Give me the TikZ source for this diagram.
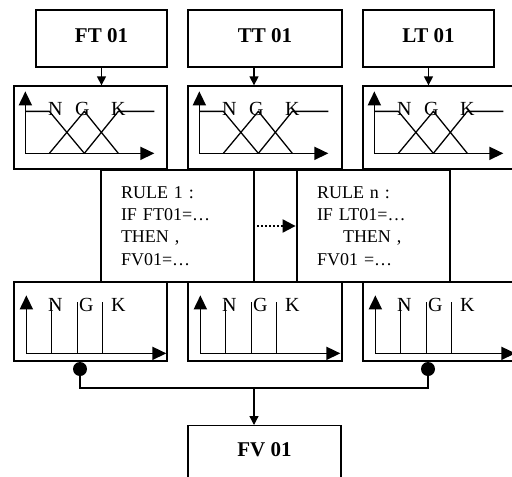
\documentclass[tikz,border=0pt]{standalone}
\usepackage{fontspec}
\setmainfont{Liberation Serif}
\usetikzlibrary{arrows.meta}
\begin{document}
\begin{tikzpicture}[x=1pt,y=-1pt,line width=1.3pt,
 tagbox/.style={draw,line width=1.3pt,inner sep=0pt,minimum height=57pt,text depth=6pt,font=\fontsize{21}{25}\selectfont\bfseries},
 mfbox/.style={draw,inner sep=0pt,minimum width=153pt},
 rulebox/.style={draw,line width=2.8pt,inner xsep=20pt,inner ysep=0pt,text width=113pt,minimum height=112pt,align=left,font=\fontsize{18}{22.3}\selectfont},
 axes/.style={line width=1.7pt,{Triangle[length=14pt,width=13pt]}-{Triangle[length=14pt,width=13pt]}},
 lbl/.style={inner sep=0pt,anchor=base,font=\fontsize{20}{24}\selectfont},
 flow/.style={line width=1.3pt,-{Triangle[length=9pt,width=9pt]}},
 joint/.style={circle,fill,inner sep=0pt,minimum size=14pt}]
 \clip (0,0) rectangle (512,477);
 % sensors
 \node[tagbox,minimum width=131pt] (ft) at (101.5,38.5) {FT 01};
 \node[tagbox,minimum width=154pt] (tt) at (265,38.5) {TT 01};
 \node[tagbox,minimum width=131pt] (lt) at (428.5,38.5) {LT 01};
 % fuzzification
 \node[mfbox,minimum height=83pt] (inft) at (90.5,127.5) {};
 \node[mfbox,minimum height=83pt,minimum width=154pt] (intt) at (265,127.5) {};
 \node[mfbox,minimum height=83pt] (inlt) at (439.5,127.5) {};
 \draw[flow] (ft.south) -- (ft.south |- inft.north);
 \draw[flow] ([xshift=-11pt]tt.south) -- ([xshift=-11pt]intt.north);
 \draw[flow] (lt.south) -- (lt.south |- inlt.north);
 \foreach \s in {ft,tt,lt}{
  \begin{scope}[shift={(in\s.north west)}]
   \draw[axes] (12,6) -- (12,68) -- (141,68);
   \draw (12,26) -- (36,26) -- (71,68);
   \draw (36,68) -- (71,26) -- (105,68);
   \draw (71,68) -- (105,26) -- (141,26);
   \node[lbl] (in\s n) at (42,30) {N};
   \node[lbl] (in\s g) at (69,30) {G};
   \node[lbl] (in\s k) at (105,30) {K};
  \end{scope}}
 % rules
 \node[rulebox] (r1) at (177.5,226) {RULE 1 :\\IF FT01=…\\THEN ,\\FV01=…};
 \node[draw,line width=2.8pt,inner sep=0pt,minimum width=43pt,minimum height=112pt] (gap) at (275.5,226) {};
 \node[rulebox] (rn) at (373.5,226) {RULE n :\\IF LT01=…\\\hspace*{26pt}THEN ,\\FV01 =…};
 \draw[line width=2pt,dash pattern=on 2pt off 2pt,-{Triangle[length=13pt,width=13pt]}] ([xshift=2pt]r1.east) -- (rn.west);
 % defuzzification
 \node[mfbox,minimum height=79pt] (outft) at (90.5,321.5) {};
 \node[mfbox,minimum height=79pt,minimum width=154pt] (outtt) at (265,321.5) {};
 \node[mfbox,minimum height=79pt] (outlt) at (439.5,321.5) {};
 \foreach \s in {ft,tt,lt}{
  \begin{scope}[shift={(out\s.north west)}]
   \draw[axes] (13,14) -- (13,72) -- (153,72);
   \foreach \p in {38,64,89}
    \draw (\p,21) -- (\p,72);
   \node[lbl] (out\s n) at (42,30) {N};
   \node[lbl] (out\s g) at (73,30) {G};
   \node[lbl] (out\s k) at (105,30) {K};
  \end{scope}}
 \node[joint] (jft) at (80,369) {};
 \node[joint] (jlt) at (428,369) {};
 \coordinate (bus) at (254,388);
 \draw (jft.center) |- (bus) -| (jlt.center);
 \node[tagbox,anchor=north,minimum width=153pt,text height=31pt,text depth=34pt] (fv) at (264.5,425) {FV 01};
 \draw[flow] (bus) -- (bus |- fv.north);
\end{tikzpicture}
\end{document}
